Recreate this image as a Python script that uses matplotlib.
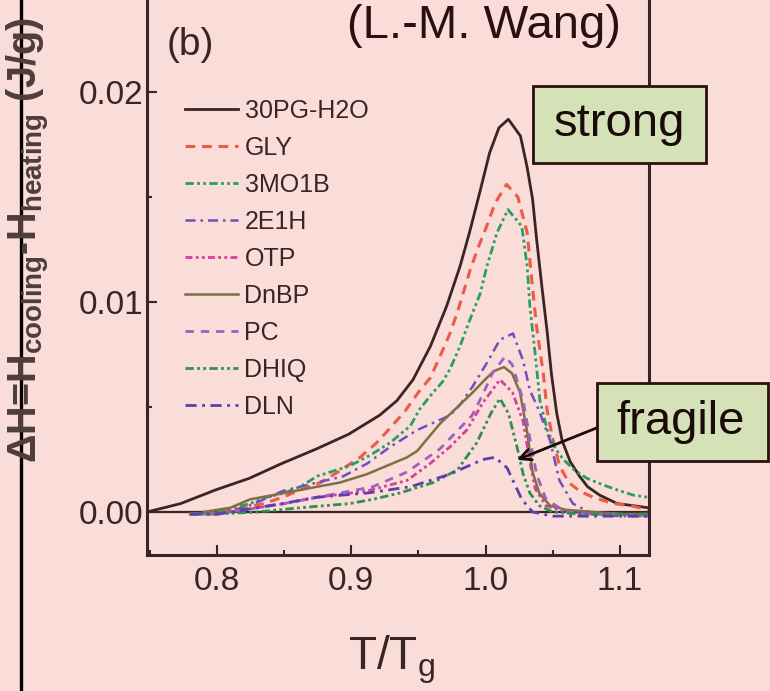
import matplotlib
matplotlib.use("Agg")
import matplotlib.pyplot as plt
from matplotlib.lines import Line2D
from matplotlib.patches import Rectangle
from matplotlib.ticker import MultipleLocator

# ── Data ──────────────────────────────────────────────────────────────────────
x_30pg = [0.748, 0.773, 0.799, 0.824, 0.848, 0.874, 0.898, 0.921, 0.934, 0.946,
          0.959, 0.971, 0.981, 0.988, 0.996, 1.003, 1.010, 1.017, 1.026, 1.031,
          1.035, 1.038, 1.042, 1.046, 1.049, 1.053, 1.057, 1.063, 1.070, 1.076,
          1.085, 1.098, 1.110, 1.121]
y_30pg = [0.0000, 0.0004, 0.00105, 0.0016, 0.0023, 0.0030, 0.0037, 0.0046, 0.0053, 0.0063,
          0.0079, 0.0098, 0.0117, 0.0133, 0.0153, 0.0171, 0.0183, 0.0187, 0.0179, 0.0164,
          0.0149, 0.0130, 0.0107, 0.0085, 0.0066, 0.0047, 0.0034, 0.0024, 0.0017, 0.0012,
          0.0008, 0.0004, 0.0003, 0.0002]

x_gly = [0.779, 0.800, 0.820, 0.835, 0.849, 0.860, 0.877, 0.890, 0.9065, 0.919,
         0.929, 0.940, 0.950, 0.959, 0.966, 0.9735, 0.9795, 0.9884, 0.9945, 1.0008,
         1.007, 1.0157, 1.024, 1.031, 1.0345, 1.038, 1.043, 1.0457, 1.050, 1.055,
         1.062, 1.070, 1.080, 1.095, 1.108, 1.121]
y_gly = [-0.0001, 0.0, 0.0002, 0.0004, 0.0007, 0.0010, 0.0014, 0.0019, 0.0026, 0.0033,
         0.0040, 0.0048, 0.0057, 0.0064, 0.0074, 0.0085, 0.0096, 0.0115, 0.0126, 0.0136,
         0.0147, 0.0156, 0.0150, 0.0133, 0.0110, 0.0088, 0.0066, 0.0049, 0.0035, 0.0022,
         0.0014, 0.0010, 0.0007, 0.0004, 0.0003, 0.0001]

x_3mo1b = [0.782, 0.800, 0.812, 0.8246, 0.837, 0.850, 0.862, 0.8745, 0.899, 0.914,
           0.929, 0.944, 0.951, 0.961, 0.968, 0.9735, 0.981, 0.988, 0.996, 1.001,
           1.0085, 1.0167, 1.027, 1.031, 1.033, 1.0368, 1.0405, 1.046, 1.052, 1.058,
           1.066, 1.0755, 1.087, 1.098, 1.110, 1.121]
y_3mo1b = [-0.0001, 0.0, 0.0002, 0.0004, 0.0007, 0.0009, 0.0012, 0.0017, 0.0022, 0.0027,
           0.0033, 0.0041, 0.0049, 0.0057, 0.0062, 0.0068, 0.0079, 0.0091, 0.0104, 0.0117,
           0.0133, 0.0144, 0.0136, 0.0117, 0.0098, 0.0076, 0.0053, 0.0039, 0.0030, 0.0025,
           0.0020, 0.0016, 0.0013, 0.00105, 0.0008, 0.0007]

x_2e1h = [0.780, 0.800, 0.820, 0.835, 0.849, 0.8745, 0.894, 0.9117, 0.929, 0.949,
          0.9735, 0.981, 0.9906, 1.001, 1.0107, 1.0204, 1.028, 1.033, 1.040, 1.048,
          1.055, 1.065, 1.080, 1.100, 1.121]
y_2e1h = [-0.0001, -0.0001, 0.0002, 0.0006, 0.0010, 0.0014, 0.0017, 0.0023, 0.0031, 0.0039,
          0.0046, 0.0051, 0.0060, 0.0071, 0.0082, 0.0085, 0.0072, 0.0058, 0.0048, 0.0034,
          0.0015, 0.0004, -0.0001, -0.0002, -0.0002]

x_otp = [0.780, 0.800, 0.820, 0.850, 0.8745, 0.9117, 0.9415, 0.9586, 0.9735, 0.986,
         0.998, 1.0107, 1.020, 1.028, 1.033, 1.037, 1.045, 1.060, 1.080, 1.100, 1.121]
y_otp = [-0.0001, -0.0001, 0.0001, 0.0004, 0.0007, 0.0010, 0.0015, 0.0023, 0.0031, 0.0039,
         0.0052, 0.0063, 0.0057, 0.0043, 0.0024, 0.0011, 0.0003, 0.0, -0.0001, -0.0001, -0.0002]

x_dnbp = [0.790, 0.810, 0.8246, 0.850, 0.8745, 0.8916, 0.9117, 0.9415, 0.949, 0.966,
          0.9906, 0.998, 1.006, 1.0137, 1.0197, 1.0256, 1.031, 1.035, 1.040, 1.048,
          1.060, 1.080, 1.100, 1.121]
y_dnbp = [0.0, 0.0002, 0.0006, 0.0009, 0.0012, 0.0014, 0.0018, 0.0026, 0.0029, 0.0042,
          0.0057, 0.0062, 0.0067, 0.0069, 0.0066, 0.0057, 0.0038, 0.0019, 0.0009, 0.0003,
          0.0001, 0.0, -0.0001, -0.0001]

x_pc = [0.780, 0.800, 0.820, 0.850, 0.8745, 0.8916, 0.916, 0.9415, 0.966, 0.990,
        0.998, 1.005, 1.0145, 1.020, 1.028, 1.033, 1.038, 1.045, 1.060, 1.080, 1.100, 1.121]
y_pc = [-0.0001, -0.0001, 0.0001, 0.0004, 0.0007, 0.0009, 0.0012, 0.0019, 0.0030, 0.0046,
        0.0056, 0.0066, 0.0074, 0.0070, 0.0053, 0.0035, 0.0018, 0.0006, 0.0, -0.0001, -0.0001, -0.0002]

x_dhiq = [0.780, 0.800, 0.830, 0.862, 0.899, 0.916, 0.936, 0.961, 0.979, 0.9935,
          0.998, 1.004, 1.0107, 1.017, 1.0234, 1.028, 1.033, 1.040, 1.050, 1.070, 1.090, 1.121]
y_dhiq = [-0.0001, -0.0001, 0.0, 0.0002, 0.0004, 0.0006, 0.0009, 0.0014, 0.0020, 0.0033,
          0.0039, 0.0047, 0.0054, 0.0047, 0.0031, 0.0018, 0.0009, 0.0003, 0.0, -0.0001, -0.0001, -0.0001]

x_dln = [0.780, 0.800, 0.820, 0.849, 0.8745, 0.9117, 0.944, 0.9735, 0.998, 1.007,
         1.016, 1.0204, 1.027, 1.035, 1.050, 1.070, 1.090, 1.121]
y_dln = [-0.0001, -0.0001, 0.0001, 0.0004, 0.0007, 0.0009, 0.0012, 0.0018, 0.0025, 0.0026,
         0.0021, 0.0015, 0.0006, 0.0, -0.0002, -0.0002, -0.0002, -0.0002]

# (label, x, y, colour, linestyle, linewidth)
series = [
    ("30PG-H2O", x_30pg, y_30pg, "#3a2424", "-", 2.0),
    ("GLY", x_gly, y_gly, "#ee5a48", (0, (3.2, 2.2)), 2.2),
    ("3MO1B", x_3mo1b, y_3mo1b, "#26a060", (0, (3, 1.2, 1, 1.2, 1, 1.2)), 2.0),
    ("2E1H", x_2e1h, y_2e1h, "#6e50c0", (0, (4, 2, 1, 2)), 1.8),
    ("OTP", x_otp, y_otp, "#d4409e", (0, (2.5, 1.2, 1, 1.2, 1, 1.2)), 2.0),
    ("DnBP", x_dnbp, y_dnbp, "#7c7044", "-", 1.8),
    ("PC", x_pc, y_pc, "#a060c0", (0, (3, 2.5)), 2.0),
    ("DHIQ", x_dhiq, y_dhiq, "#2e9050", (0, (3, 1.2, 1, 1.2, 1, 1.2)), 2.0),
    ("DLN", x_dln, y_dln, "#5a40a8", (0, (4, 2, 1, 2)), 2.0),
]

x_ticks = [0.8, 0.9, 1.0, 1.1]
y_ticks = [0.00, 0.01, 0.02]

# ── Styling ───────────────────────────────────────────────────────────────────
W, H = 770, 691
BG = "#fadcd8"
INK = "#3a2525"
FONT = ["Liberation Sans", "DejaVu Sans"]


def fx(px):
    return px / W


def fy(py):
    return 1 - py / H


fig = plt.figure(figsize=(W / 100, H / 100), dpi=100, facecolor=BG)

# axes box: left 147px, right 649px, bottom 555px, top beyond the picture
ax = fig.add_axes([fx(147), fy(555), fx(649) - fx(147), (555 + 23.5) / H])
ax.set_facecolor(BG)
ax.set_xlim(0.7479, 1.1217)
ax.set_ylim(-0.00205, 0.0255)

for name, xs, ys, col, ls, lw in series:
    ax.plot(xs, ys, color=col, linestyle=ls, linewidth=lw, label=name)

ax.axhline(0, color=INK, lw=1.6, zorder=1)

for sp in ax.spines.values():
    sp.set_color(INK)
    sp.set_linewidth(2.2)

ax.set_xticks(x_ticks)
ax.set_xticklabels([f"{v:.1f}" for v in x_ticks])
ax.set_yticks(y_ticks)
ax.set_yticklabels([f"{v:.2f}" for v in y_ticks])
ax.xaxis.set_minor_locator(MultipleLocator(0.05))
ax.yaxis.set_minor_locator(MultipleLocator(0.005))
ax.tick_params(which="both", direction="in", color=INK, width=1.5,
               top=False, right=False)
ax.tick_params(which="major", length=7)
ax.tick_params(which="minor", length=3.5)
ax.tick_params(axis="x", pad=8, labelsize=24, labelcolor=INK)
ax.tick_params(axis="y", pad=2.5, labelsize=24, labelcolor=INK)
for lab in ax.get_xticklabels() + ax.get_yticklabels():
    lab.set_family(FONT)

leg = ax.legend(loc="upper left", bbox_to_anchor=(fx(185), fy(99)),
                bbox_transform=fig.transFigure, frameon=False,
                prop={"family": FONT, "size": 18},
                handlelength=2.1, handletextpad=0.28, labelspacing=0.52,
                borderpad=0, borderaxespad=0)
for t in leg.get_texts():
    t.set_color(INK)

# ── Texts ─────────────────────────────────────────────────────────────────────
fig.text(fx(190), fy(45), "(b)", family=FONT, fontsize=28, color=INK,
         ha="center", va="center")
fig.text(fx(484), fy(26), "(L.-M. Wang)", family=FONT, fontsize=34,
         color="#2a1010", ha="center", va="center")
fig.text(fx(392), fy(670), r"T/T$_\mathregular{g}$", family=FONT, fontsize=33,
         color=INK, ha="center", va="baseline")
fig.text(fx(29), fy(240),
         r"ΔH=H$_\mathregular{cooling}$-H$_\mathregular{heating}$ (J/g)",
         family=FONT, fontweight="bold", fontsize=28.5, color="#4d3d3d",
         rotation=90, ha="center", va="center")

# annotation boxes
for (x0, y0, x1, y1), word, cx in [((533, 86, 706, 163), "strong", 619.5),
                                   ((597, 383, 768, 461), "fragile", 681)]:
    fig.add_artist(Rectangle((fx(x0), fy(y1)), fx(x1) - fx(x0), fy(y0) - fy(y1),
                             transform=fig.transFigure, facecolor="#d5e2b8",
                             edgecolor="#2a1010", lw=2, zorder=5))
    fig.text(fx(cx), fy((y0 + y1) / 2), word, family=FONT, fontsize=34,
             color="#1a0a0a", ha="center", va="center", zorder=6)

ax.annotate("", xy=(1.0234, 0.00248), xycoords="data",
            xytext=(fx(614), fy(421)), textcoords="figure fraction",
            arrowprops=dict(arrowstyle="->,head_length=0.8,head_width=0.4",
                            color="#1a0a0a", lw=2, shrinkA=0, shrinkB=0),
            annotation_clip=False, zorder=7)

# slide frame line at the left
fig.add_artist(Line2D([fx(21), fx(21)], [0, 1], transform=fig.transFigure,
                      color="black", lw=2.4))

fig.savefig("out.png", dpi=100, facecolor=BG)
